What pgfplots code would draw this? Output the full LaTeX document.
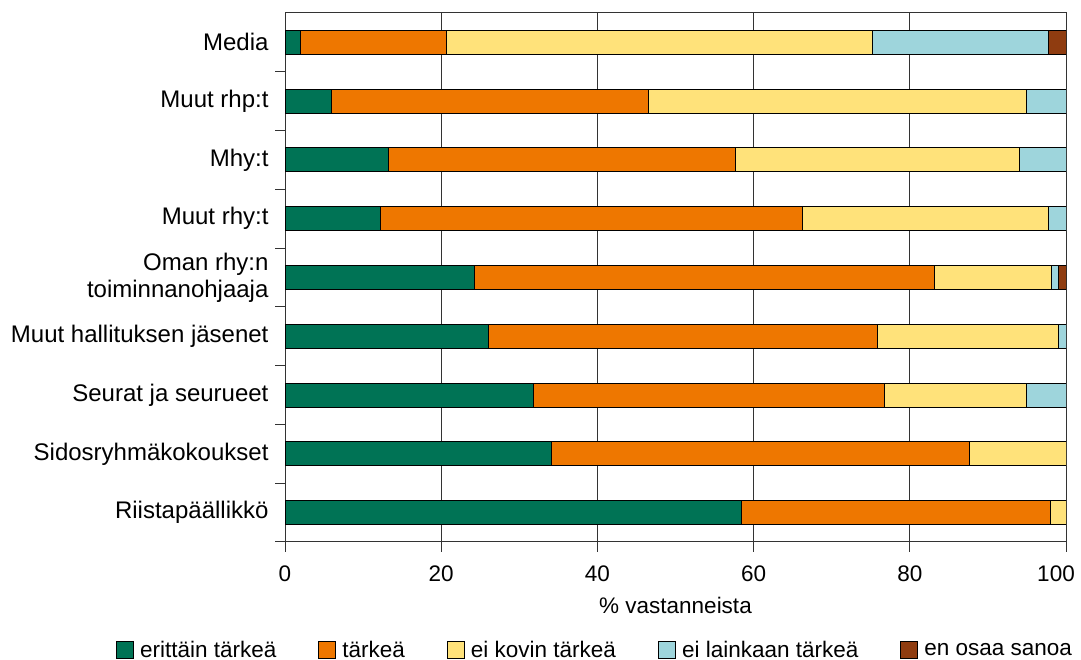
\documentclass[border=0pt]{standalone}
\usepackage{fontspec}
\setmainfont{Liberation Sans}
\usepackage{pgfplots}
\pgfplotsset{compat=1.18}

\definecolor{cGreen}{RGB}{0,115,85}
\definecolor{cOrange}{RGB}{238,119,0}
\definecolor{cYellow}{RGB}{255,226,122}
\definecolor{cCyan}{RGB}{158,213,220}
\definecolor{cBrown}{RGB}{143,60,16}

\begin{document}
\begin{tikzpicture}[font=\fontsize{22.5}{25}\selectfont]
\begin{axis}[
  at={(285pt,118pt)}, anchor=south west,
  scale only axis, width=781pt, height=529pt,
  xbar stacked, bar width=0.41,
  xmin=0, xmax=100, ymin=-0.5, ymax=8.5,
  xtick={0,20,...,100},
  xticklabels={0,20,40,60,80,{\hspace*{-20pt}100}},
  xticklabel style={yshift=-10pt},
  /pgf/number format/assume math mode=true,
  xmajorgrids, major grid style={black!80, line width=1pt},
  axis line style={black!80, line width=1pt},
  tick style={black!80, line width=1pt},
  tick align=outside, major tick length=10pt, minor tick length=10pt,
  ytick={0,...,8},
  yticklabels={Riistapäällikkö, Sidosryhmäkokoukset, Seurat ja seurueet,
    Muut hallituksen jäsenet, {Oman rhy:n\\toiminnanohjaaja}, Muut rhy:t,
    Mhy:t, Muut rhp:t, Media},
  yticklabel style={align=right, font=\fontsize{24}{27}\selectfont, xshift=-3pt},
  minor ytick={-0.5,0.5,...,7.5},
  every major y tick/.append style={draw=none},
  xtick pos=bottom, ytick pos=left,
  xlabel={\% vastanneista},
  xlabel style={at={(axis description cs:0.5,0)}, anchor=center, yshift=-63pt},
  legend columns=5,
  legend style={draw=none, at={(0.397,-0.204)}, anchor=center,
    /tikz/every odd column/.append style={column sep=4pt},
    /tikz/every even column/.append style={column sep=40pt}},
  legend image code/.code={\draw[/tikz/.cd,#1] (0pt,-8.5pt) rectangle (17pt,8.5pt);},
  every axis plot/.append style={draw=black, line width=1pt},
]
\addplot[fill=cGreen] coordinates {(58.5,0) (34.1,1) (31.8,2) (26.0,3) (24.2,4) (12.2,5) (13.2,6) (6.0,7) (2.0,8)};
\addplot[fill=cOrange] coordinates {(39.5,0) (53.5,1) (45.0,2) (49.9,3) (58.9,4) (54.1,5) (44.5,6) (40.5,7) (18.7,8)};
\addplot[fill=cYellow] coordinates {(2.0,0) (12.4,1) (18.2,2) (23.1,3) (15.0,4) (31.5,5) (36.3,6) (48.5,7) (54.5,8)};
\addplot[fill=cCyan] coordinates {(0,0) (0,1) (5.0,2) (1.0,3) (0.9,4) (2.2,5) (6.0,6) (5.0,7) (22.5,8)};
\addplot[fill=cBrown] coordinates {(0,0) (0,1) (0,2) (0,3) (1.0,4) (0,5) (0,6) (0,7) (2.3,8)};
\legend{erittäin tärkeä, tärkeä, ei kovin tärkeä, ei lainkaan tärkeä, en osaa sanoa}
\end{axis}
\pgfresetboundingbox
\path (0,0) rectangle (1081pt,660pt);
\end{tikzpicture}
\end{document}
